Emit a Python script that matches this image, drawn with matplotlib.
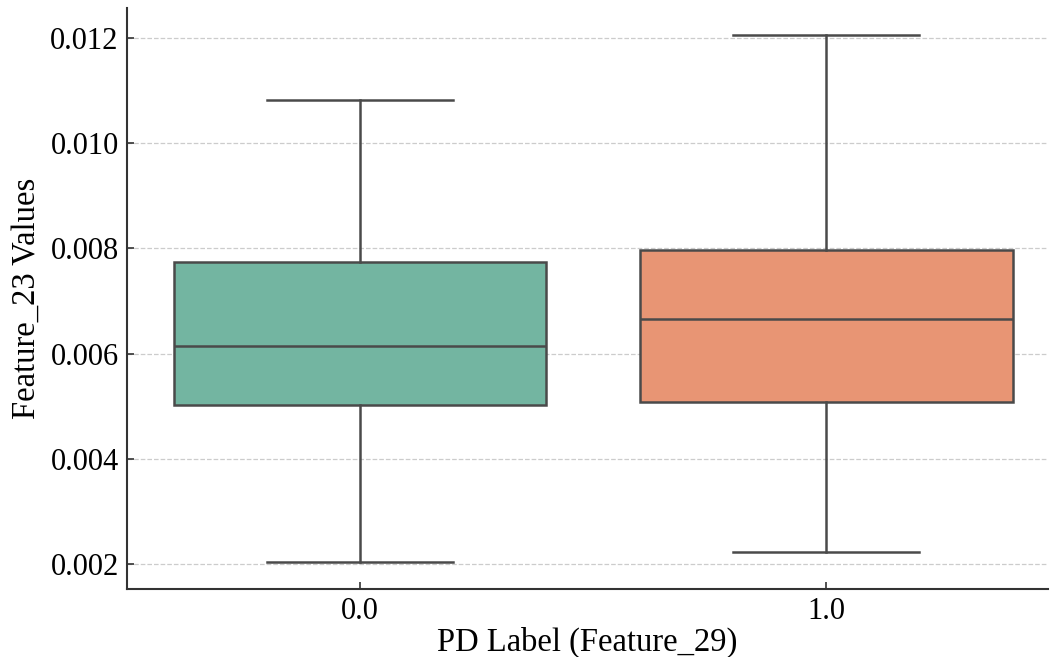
import matplotlib
matplotlib.use("Agg")
import matplotlib.pyplot as plt

plt.rcParams['font.family'] = ['Liberation Serif', 'DejaVu Serif']

# box statistics
labels = ["0.0", "1.0"]
whislo = [0.00204, 0.00223]
q1 = [0.00502, 0.00508]
med = [0.00614, 0.00666]
q3 = [0.00774, 0.00797]
whishi = [0.01082, 0.01206]
colors = ["#73b5a1", "#e89574"]

stats = []
for i in range(len(labels)):
    stats.append(dict(label=labels[i], whislo=whislo[i], q1=q1[i], med=med[i],
                      q3=q3[i], whishi=whishi[i], fliers=[]))

fig = plt.figure(figsize=(10.51, 6.57), dpi=100)
ax = fig.add_axes([0.1208, 0.1035, 0.8763, 0.8843])

line_c = "#4a4a4a"
bp = ax.bxp(stats, positions=[0, 1], widths=0.8, patch_artist=True, showfliers=False,
            boxprops=dict(edgecolor=line_c, linewidth=1.8),
            medianprops=dict(color=line_c, linewidth=1.8),
            whiskerprops=dict(color=line_c, linewidth=1.8),
            capprops=dict(color=line_c, linewidth=1.8),
            capwidths=0.4)
for patch, c in zip(bp['boxes'], colors):
    patch.set_facecolor(c)

ax.set_xlim(-0.5, 1.476)
ax.set_ylim(0.001525, 0.01257)
ax.set_yticks([0.002, 0.004, 0.006, 0.008, 0.010, 0.012])
ax.set_yticklabels(["0.002", "0.004", "0.006", "0.008", "0.010", "0.012"])
ax.yaxis.grid(True, linestyle="--", color="#cccccc", linewidth=0.9)
ax.set_axisbelow(True)

for s in ["top", "right"]:
    ax.spines[s].set_visible(False)
for s in ["left", "bottom"]:
    ax.spines[s].set_linewidth(1.5)
    ax.spines[s].set_color("#333333")

ax.tick_params(direction="in", length=5, width=1.2, labelsize=22, colors="#333333",
               labelcolor="black", pad=6)
ax.set_xlabel("PD Label (Feature_29)", fontsize=23.5, labelpad=0)
ax.set_ylabel("Feature_23 Values", fontsize=23.5, labelpad=6)

fig.savefig("out.png", dpi=100)
